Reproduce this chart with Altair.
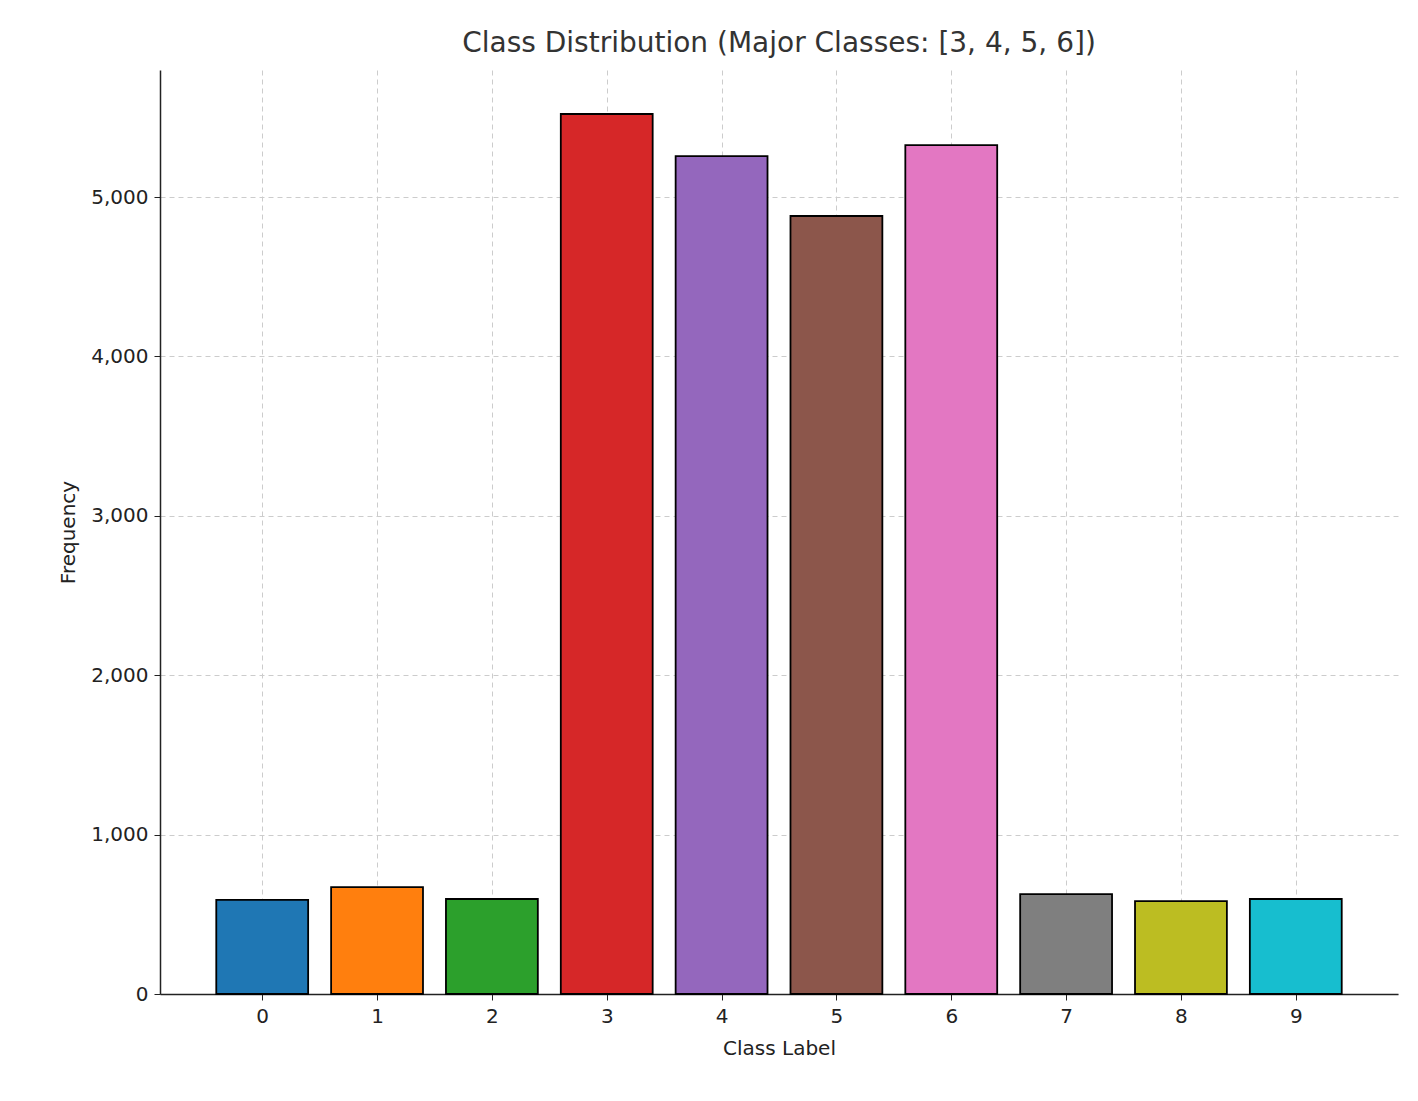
import altair as alt
import pandas as pd

labels = [0, 1, 2, 3, 4, 5, 6, 7, 8, 9]
counts = [590, 671, 596, 5521, 5257, 4881, 5326, 627, 583, 596]
colors = ["#1f77b4", "#ff7f0e", "#2ca02c", "#d62728", "#9467bd",
          "#8c564b", "#e377c2", "#7f7f7f", "#bcbd22", "#17becf"]

df = pd.DataFrame({"label": labels, "count": counts, "color": colors})
df["x0"] = df["label"] - 0.4
df["x1"] = df["label"] + 0.4

bars = alt.Chart(df).mark_rect(stroke="black", strokeWidth=1.8).encode(
    x=alt.X("x0:Q", title="Class Label",
            scale=alt.Scale(domain=[-0.89, 9.89], nice=False, zero=False),
            axis=alt.Axis(values=labels, format="d")),
    x2="x1:Q",
    y=alt.Y("count:Q", title="Frequency",
            scale=alt.Scale(domain=[0, 5797], nice=False),
            axis=alt.Axis(values=[0, 1000, 2000, 3000, 4000, 5000])),
    y2=alt.datum(0),
    color=alt.Color("color:N", scale=None),
)

chart = bars.properties(
    width=1238, height=924,
    title=alt.TitleParams("Class Distribution (Major Classes: [3, 4, 5, 6])",
                          fontSize=28, fontWeight="normal", color="#333333",
                          font="DejaVu Sans", offset=12),
    autosize=alt.AutoSizeParams(type="none"),
    padding={"left": 152, "top": 62, "right": 12, "bottom": 99},
).configure_view(stroke=None).configure_axis(
    labelFont="DejaVu Sans", titleFont="DejaVu Sans",
    labelFontSize=20, titleFontSize=20, titleFontWeight="normal",
    labelColor="#222222", titleColor="#222222",
    gridDash=[5, 4], gridColor="#cccccc", gridWidth=1,
    domainColor="#222222", domainWidth=1.5, tickColor="#222222",
    tickSize=6, labelPadding=6, titlePadding=12,
)

chart.save("out.html", embed_options={"renderer": "svg", "actions": False})
